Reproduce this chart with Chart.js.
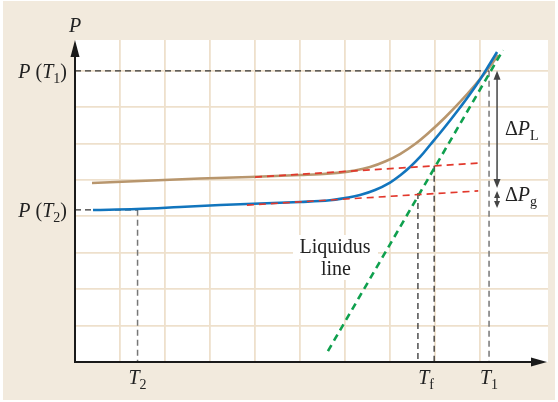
<!DOCTYPE html>
<html><head><meta charset="utf-8">
<script src="https://cdn.jsdelivr.net/npm/chart.js@4/dist/chart.umd.min.js"></script>
<style>html,body{margin:0;padding:0;background:#fff}canvas{display:block}</style>
</head><body><canvas id="c" width="558" height="402"></canvas>
<script>
// ---- data (grid units) ----
const upperCurveX = [0.378,1.444,2.778,3.889,5.0,5.444,5.889,6.222,6.556,6.889,7.222,7.556,7.889,8.222,8.556,8.889,9.178,9.4];
const upperCurveY = [4.918,4.973,5.041,5.082,5.137,5.159,5.203,5.261,5.357,5.508,5.714,5.989,6.332,6.717,7.143,7.610,8.049,8.434];
const lowerCurveX = [0.4,1.378,2.333,3.222,4.111,5.0,5.667,6.0,6.333,6.667,7.0,7.222,7.444,7.667,7.889,8.111,8.333,8.556,8.778,9.0,9.222,9.378];
const lowerCurveY = [4.176,4.203,4.258,4.313,4.354,4.396,4.442,4.505,4.588,4.725,4.931,5.124,5.357,5.632,5.962,6.291,6.635,6.992,7.363,7.761,8.201,8.516];
const upperTangentX = [4.0, 9.04];
const upperTangentY = [5.08, 5.47];
const lowerTangentX = [3.82, 8.96];
const lowerTangentY = [4.31, 4.70];
const liquidusX = [5.62, 9.51];
const liquidusY = [0.30, 8.57];
const T2 = 1.39, Tf = 7.98, Tf2 = 7.62, T1 = 9.2;
const PT1 = 8.0, PT2 = 4.18;
const TfTop = 5.39, Tf2Top = 4.64;
const deltaL = [8.0, 4.78];
const deltaG = [4.70, 4.23];
const xTickValues = [1.39, 7.8, 9.2];
const xTickLabels = [[['T','i'],['2','s']], [['T','i'],['f','s']], [['T','i'],['1','s']]];
const yTickValues = [8.0, 4.18];
const yTickLabels = [[['P','i'],[' (','n'],['T','i'],['1','s'],[')','n']], [['P','i'],[' (','n'],['T','i'],['2','s'],[')','n']]];

const pts = (xs, ys) => xs.map((x, i) => ({x, y: ys[i]}));
const FONT = '"Liberation Serif", "Times New Roman", serif';

function fontFor(s){
  if (s === 'i') return 'italic 20px ' + FONT;
  if (s === 's') return '14px ' + FONT;
  return '20px ' + FONT;
}
function drawRich(ctx, parts, x, y, align){
  let w = 0;
  parts.forEach(p => { ctx.font = fontFor(p[1]); w += ctx.measureText(p[0]).width; });
  let cx = align === 'center' ? x - w/2 : align === 'right' ? x - w : x;
  ctx.textAlign = 'left'; ctx.textBaseline = 'alphabetic';
  parts.forEach(p => {
    ctx.font = fontFor(p[1]);
    ctx.fillText(p[0], cx, p[1] === 's' ? y + 5 : y);
    cx += ctx.measureText(p[0]).width;
  });
}
function arrowHead(ctx, x, y, dir, len, half){
  ctx.beginPath();
  if (dir === 'up'){ ctx.moveTo(x, y); ctx.lineTo(x-half, y+len); ctx.lineTo(x+half, y+len); }
  else if (dir === 'down'){ ctx.moveTo(x, y); ctx.lineTo(x-half, y-len); ctx.lineTo(x+half, y-len); }
  else { ctx.moveTo(x, y); ctx.lineTo(x-len, y-half); ctx.lineTo(x-len, y+half); }
  ctx.closePath(); ctx.fill();
}

const deco = {
  id: 'deco',
  beforeDraw(chart){
    const ctx = chart.ctx, a = chart.chartArea;
    ctx.save();
    ctx.fillStyle = '#ffffff'; ctx.fillRect(0,0,chart.width,chart.height);
    ctx.fillStyle = '#f2eadd'; ctx.fillRect(3,1,552,399);
    ctx.fillStyle = '#ffffff'; ctx.fillRect(a.left, a.top, a.right-a.left, a.bottom-a.top);
    ctx.restore();
  },
  beforeDatasetsDraw(chart){
    const ctx = chart.ctx;
    ctx.save();
    ctx.fillStyle = '#ffffff';
    ctx.fillRect(293, 235, 85, 24);
    ctx.fillRect(318, 258, 38, 22);
    ctx.restore();
  },
  afterDatasetsDraw(chart){
    const ctx = chart.ctx, xs = chart.scales.x, ys = chart.scales.y;
    ctx.save();
    const ax = xs.getPixelForValue(9.378);
    ctx.strokeStyle = '#444'; ctx.fillStyle = '#444'; ctx.lineWidth = 1.5;
    const l0 = ys.getPixelForValue(deltaL[0]), l1 = ys.getPixelForValue(deltaL[1]);
    ctx.beginPath(); ctx.moveTo(ax, l0+6); ctx.lineTo(ax, l1-6); ctx.stroke();
    arrowHead(ctx, ax, l0, 'up', 9, 3.5);
    arrowHead(ctx, ax, l1, 'down', 9, 3.5);
    const g0 = ys.getPixelForValue(deltaG[0]), g1 = ys.getPixelForValue(deltaG[1]);
    ctx.beginPath(); ctx.moveTo(ax, g0+5); ctx.lineTo(ax, g1-5); ctx.stroke();
    arrowHead(ctx, ax, g0, 'up', 7, 3);
    arrowHead(ctx, ax, g1, 'down', 7, 3);
    ctx.restore();
  },
  afterDraw(chart){
    const ctx = chart.ctx, a = chart.chartArea, xs = chart.scales.x, ys = chart.scales.y;
    ctx.save();
    ctx.strokeStyle = '#1a1a1a'; ctx.fillStyle = '#1a1a1a'; ctx.lineWidth = 2;
    ctx.beginPath(); ctx.moveTo(a.left, a.bottom); ctx.lineTo(a.left, a.top + 12); ctx.stroke();
    ctx.beginPath(); ctx.moveTo(a.left - 1, a.bottom); ctx.lineTo(a.right - 12, a.bottom); ctx.stroke();
    arrowHead(ctx, a.left, a.top, 'up', 17, 4.5);
    arrowHead(ctx, a.right - 1, a.bottom, 'right', 16, 4.5);
    ctx.fillStyle = '#222';
    drawRich(ctx, [['P','i']], a.left, 32, 'center');
    yTickValues.forEach((v, i) => drawRich(ctx, yTickLabels[i], 67, ys.getPixelForValue(v) + 7, 'right'));
    xTickValues.forEach((v, i) => drawRich(ctx, xTickLabels[i], xs.getPixelForValue(v), 384, 'center'));
    drawRich(ctx, [['\u0394','n'],['P','i'],['L','s']], 505, 135, 'left');
    drawRich(ctx, [['\u0394','n'],['P','i'],['g','s']], 505, 201, 'left');
    ctx.font = '20px ' + FONT; ctx.textAlign = 'center'; ctx.textBaseline = 'alphabetic';
    ctx.fillText('Liquidus', 335, 253);
    ctx.fillText('line', 336, 275);
    ctx.restore();
  }
};

const line = (data, color, width, dash, extra) => Object.assign({
  data, borderColor: color, borderWidth: width, borderDash: dash || [],
  showLine: true, pointRadius: 0, fill: false, tension: 0
}, extra || {});

new Chart(document.getElementById('c'), {
  type: 'scatter',
  data: { datasets: [
    line(pts(upperTangentX, upperTangentY), '#e2382c', 1.6, [7,5]),
    line(pts(lowerTangentX, lowerTangentY), '#e2382c', 1.6, [7,5]),
    line(pts(liquidusX, liquidusY), '#0fa04e', 2.6, [7,5]),
    line(pts(lowerCurveX, lowerCurveY), '#1275bd', 2.6, null, {tension: 0.4}),
    line(pts(upperCurveX, upperCurveY), '#b8966d', 2.6, null, {tension: 0.4}),
    line([{x:0,y:PT1},{x:T1,y:PT1}], '#333', 1.2, [6,4]),
    line([{x:0,y:PT2},{x:T2,y:PT2}], '#333', 1.2, [6,4]),
    line([{x:T1,y:PT1},{x:T1,y:0}], '#777', 1.5, [6,4]),
    line([{x:T2,y:PT2},{x:T2,y:0}], '#777', 1.5, [6,4]),
    line([{x:Tf,y:TfTop},{x:Tf,y:0}], '#222', 1.2, [6,4]),
    line([{x:Tf2,y:Tf2Top},{x:Tf2,y:0}], '#222', 1.2, [6,4])
  ]},
  options: {
    responsive: false, animation: false, devicePixelRatio: 1,
    layout: { padding: { left: 75, right: 10, top: 40, bottom: 40 } },
    plugins: { legend: { display: false }, tooltip: { enabled: false } },
    scales: {
      x: { type: 'linear', min: 0, max: 10.51,
        ticks: { display: false, stepSize: 1 },
        border: { display: false },
        grid: { drawTicks: false, lineWidth: 1.8,
          color: c => (c.tick && c.tick.value > 0 && Number.isInteger(c.tick.value)) ? '#eee0cc' : 'rgba(0,0,0,0)' } },
      y: { type: 'linear', min: 0, max: 8.846,
        ticks: { display: false, stepSize: 1 },
        border: { display: false },
        grid: { drawTicks: false, lineWidth: 1.8,
          color: c => (c.tick && c.tick.value > 0 && Number.isInteger(c.tick.value)) ? '#eee0cc' : 'rgba(0,0,0,0)' } }
    }
  },
  plugins: [deco]
});
</script></body></html>
